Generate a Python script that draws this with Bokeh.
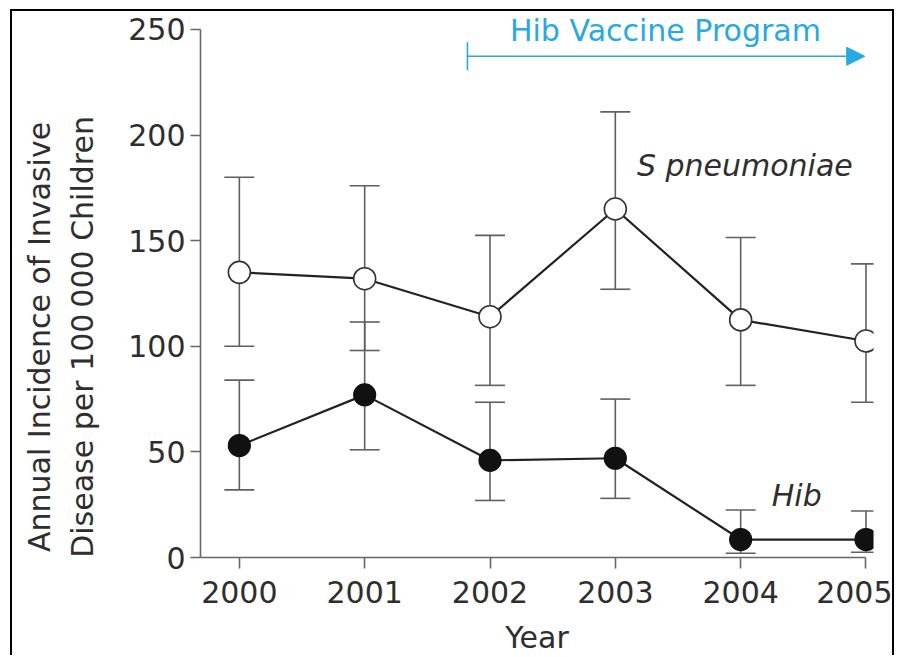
from bokeh.plotting import figure
from bokeh.models import (ColumnDataSource, Whisker, TeeHead, Arrow, NormalHead,
                          Label, FixedTicker, Range1d)
from bokeh.embed import file_html
from bokeh.resources import INLINE

years = [2000, 2001, 2002, 2003, 2004, 2005]
year_labels = ["2000", "2001", "2002", "2003", "2004", "2005"]
y_ticks = [0, 50, 100, 150, 200, 250]

sp_value = [135, 132, 114, 165, 112.5, 102.5]
sp_upper = [180, 176, 152.5, 211, 151.5, 139]
sp_lower = [100, 98, 81.5, 127, 81.5, 73.5]

hib_value = [53, 77, 46, 47, 8.5, 8.5]
hib_upper = [84, 111.5, 73.5, 75, 22.5, 22]
hib_lower = [32, 51, 27, 28, 2, 2.5]

y_title_lines = ["Annual Incidence of Invasive", "Disease per 100\u2009000 Children"]

FONT = "DejaVu Sans"
FS = "30px"
TEXT = "#2e2e2e"
AXIS = "#666666"
CYAN = "#27aae1"

p = figure(width=884, height=646, output_backend="svg", toolbar_location=None,
           x_range=Range1d(1999.69, 2005.06), y_range=Range1d(0, 258.5),
           min_border_left=188, min_border_right=23, min_border_top=0,
           min_border_bottom=98)
p.styles = {"margin-top": "9px", "margin-left": "10px",
            "border-top": "2px solid black", "border-left": "2px solid black",
            "border-right": "2px solid black"}
p.outline_line_color = None
p.grid.visible = False
p.background_fill_color = "white"

sp_src = ColumnDataSource(dict(x=years, y=sp_value, up=sp_upper, lo=sp_lower))
hib_src = ColumnDataSource(dict(x=years, y=hib_value, up=hib_upper, lo=hib_lower))

for src in (sp_src, hib_src):
    w = Whisker(source=src, base="x", upper="up", lower="lo",
                line_color="#606060", line_width=1.6, level="underlay",
                upper_head=TeeHead(size=30, line_color="#606060", line_width=1.6),
                lower_head=TeeHead(size=30, line_color="#606060", line_width=1.6))
    p.add_layout(w)

p.line("x", "y", source=sp_src, line_color="#222222", line_width=2.2)
p.line("x", "y", source=hib_src, line_color="#222222", line_width=2.2)
p.scatter("x", "y", source=sp_src, size=22, fill_color="white",
          line_color="#333333", line_width=1.6)
p.scatter("x", "y", source=hib_src, size=22, fill_color="#111111",
          line_color="#111111", line_width=1.2)

# axes
p.xaxis.ticker = FixedTicker(ticks=years)
p.xaxis.major_label_overrides = {y: l for y, l in zip(years, year_labels)}
p.yaxis.ticker = FixedTicker(ticks=y_ticks)
p.xaxis.bounds = (1999.69, 2005)
p.yaxis.bounds = (0, 250)
for ax in (p.xaxis, p.yaxis):
    ax.axis_line_color = AXIS
    ax.axis_line_width = 1.6
    ax.major_tick_line_color = AXIS
    ax.major_tick_line_width = 1.6
    ax.major_tick_out = 10
    ax.major_tick_in = 0
    ax.minor_tick_line_color = None
    ax.major_label_text_font = FONT
    ax.major_label_text_font_size = FS
    ax.major_label_text_color = TEXT
    ax.axis_label_text_font = FONT
    ax.axis_label_text_font_size = FS
    ax.axis_label_text_font_style = "normal"
    ax.axis_label_text_color = TEXT
p.xaxis.major_tick_out = 11
p.xaxis.major_label_standoff = 12
p.xaxis.axis_label = "Year"
p.xaxis.axis_label_standoff = 14
p.yaxis.major_label_standoff = 5

# y-axis title: the reference sets it low along the axis, so each line is
# padded at its end with no-break spaces to move it toward the axis origin
PAD = "\u00a0" * 11
p.yaxis.axis_label = "\n".join(line + PAD for line in y_title_lines)
p.yaxis.axis_label_standoff = 25
p.yaxis.axis_label_text_line_height = 1.23

# annotations
p.add_layout(Arrow(x_start=2001.82, y_start=237.3, x_end=2004.99, y_end=237.3,
                   line_color=CYAN, line_width=1.6,
                   start=TeeHead(size=28, line_color=CYAN, line_width=1.6),
                   end=NormalHead(size=18, fill_color=CYAN, line_color=CYAN)))
p.add_layout(Label(x=2003.40, y=249.6, text="Hib Vaccine Program",
                   text_align="center", text_baseline="middle",
                   text_font=FONT, text_font_size=FS, text_color=CYAN))
p.add_layout(Label(x=2003.172, y=185.8, text="S pneumoniae",
                   text_align="left", text_baseline="middle",
                   text_font=FONT, text_font_size=FS, text_font_style="italic",
                   text_color=TEXT))
p.add_layout(Label(x=2004.248, y=29.5, text="Hib",
                   text_align="left", text_baseline="middle",
                   text_font=FONT, text_font_size=FS, text_font_style="italic",
                   text_color=TEXT))

open("out.html", "w").write(file_html(p, INLINE))
